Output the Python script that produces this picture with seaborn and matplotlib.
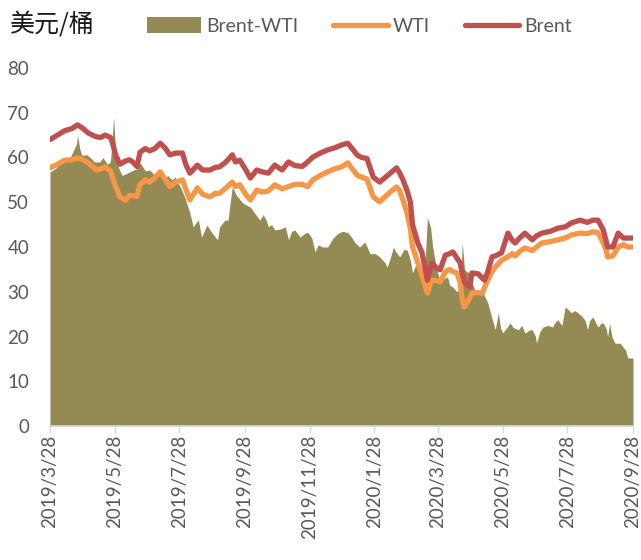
import matplotlib
matplotlib.use('Agg')
import matplotlib.pyplot as plt
import seaborn as sns
import pandas as pd
from matplotlib.patches import Patch
from matplotlib.lines import Line2D

# ---------------- data ----------------
line_dates = ['2019-03-28','2019-04-04','2019-04-11','2019-04-18','2019-04-23','2019-04-28','2019-05-03','2019-05-07',
              '2019-05-11','2019-05-15','2019-05-19','2019-05-24','2019-05-26','2019-05-29','2019-06-02','2019-06-07',
              '2019-06-11','2019-06-14','2019-06-18','2019-06-21','2019-06-26','2019-06-30','2019-07-05','2019-07-10',
              '2019-07-15','2019-07-19','2019-07-25','2019-07-31','2019-08-03','2019-08-07','2019-08-14','2019-08-19',
              '2019-08-26','2019-08-31','2019-09-04','2019-09-10','2019-09-16','2019-09-19','2019-09-23','2019-09-28',
              '2019-10-03','2019-10-09','2019-10-14','2019-10-20','2019-10-26','2019-11-02','2019-11-08','2019-11-14',
              '2019-11-21','2019-11-26','2019-12-01','2019-12-08','2019-12-15','2019-12-22','2019-12-28','2020-01-03',
              '2020-01-07','2020-01-12','2020-01-16','2020-01-21','2020-01-27','2020-02-02','2020-02-07','2020-02-12',
              '2020-02-18','2020-02-21','2020-02-24','2020-02-28','2020-03-02','2020-03-04','2020-03-09','2020-03-13',
              '2020-03-18','2020-03-22','2020-03-26','2020-03-30','2020-04-04','2020-04-08','2020-04-11','2020-04-15',
              '2020-04-18','2020-04-20','2020-04-22','2020-04-27','2020-04-29','2020-05-05','2020-05-09','2020-05-11',
              '2020-05-14','2020-05-18','2020-05-21','2020-05-27','2020-06-02','2020-06-06','2020-06-09','2020-06-13',
              '2020-06-18','2020-06-25','2020-06-29','2020-07-04','2020-07-12','2020-07-19','2020-07-26','2020-08-01',
              '2020-08-09','2020-08-16','2020-08-21','2020-08-26','2020-08-31','2020-09-03','2020-09-04','2020-09-09',
              '2020-09-14','2020-09-19','2020-09-23','2020-09-28']

brent = [64, 65, 66, 66.5, 67.3, 66.5, 65.5, 65, 64.6, 64.5, 65, 64.5, 63.2, 60.5, 58.5, 59.2,
         59.5, 59, 58, 61.2, 62, 61.5, 62, 63.2, 62, 60.6, 61, 61, 58.5, 56.5, 58.3, 57.2,
         57.2, 57.8, 57.9, 59, 60.6, 59, 59.4, 57.5, 55.4, 57.2, 56.8, 56.5, 58.3, 57.2, 59, 58.2,
         58, 59, 60.1, 61, 61.7, 62.2, 62.8, 63.2, 62, 60.5, 60, 59.8, 55.6, 54.5, 55.5, 56.5,
         57.7, 56.5, 55, 52.5, 50, 45, 40.9, 38.7, 32.6, 36.4, 35.5, 34.9, 38.2, 38.5, 38.9, 37.5,
         36.4, 34, 32.2, 31, 34.2, 34, 33, 32.6, 34.5, 37.8, 38, 38.7, 43.1, 41.5, 40.9, 42,
         43.1, 41.6, 42.5, 43.1, 43.5, 44.2, 44.5, 45.4, 46, 45.5, 46, 46, 43.8, 41, 40, 40,
         43.1, 42, 42, 42]

wti = [57.7, 58.5, 59.4, 59.5, 59.9, 59.5, 58.8, 58, 57.2, 57.5, 57.9, 57, 55.6, 53.5, 51.2, 50.5,
       51.5, 51.5, 51.3, 54, 55, 54.5, 55.5, 56.8, 55, 53.5, 54.5, 55, 53, 50.5, 53.2, 51.8,
       51.2, 52, 52, 53.2, 54.5, 53.5, 53.9, 52, 50.5, 52.7, 52.3, 52.5, 53.9, 53, 53.5, 54,
       54, 53.5, 55, 56, 56.8, 57.5, 57.9, 58.8, 57.5, 56, 55.6, 55.2, 51.2, 50.1, 51.2, 52.3,
       53.4, 52.5, 50.5, 47.5, 44, 40, 36.5, 33.5, 29.7, 32.6, 32.5, 32.2, 34.5, 35, 34.5, 34.2,
       32, 28.2, 26.6, 28.6, 29.7, 29.8, 29.7, 31, 32.6, 34.5, 35.5, 37, 37.8, 38.5, 38, 39,
       39.8, 39.2, 40, 40.9, 41.2, 41.6, 42, 42.7, 43.1, 43, 43.4, 43.2, 40.9, 39, 37.8, 38,
       40, 40.5, 40, 40]

spread_dates = ['2019-03-28','2019-04-02','2019-04-06','2019-04-11','2019-04-16','2019-04-18','2019-04-22','2019-04-23',
                '2019-04-25','2019-04-27','2019-05-02','2019-05-07','2019-05-09','2019-05-14','2019-05-17','2019-05-21',
                '2019-05-24','2019-05-25','2019-05-27','2019-05-29','2019-06-01','2019-06-04','2019-06-09','2019-06-13',
                '2019-06-18','2019-06-21','2019-06-26','2019-06-30','2019-07-05','2019-07-10','2019-07-13','2019-07-17',
                '2019-07-21','2019-07-24','2019-07-29','2019-08-02','2019-08-07','2019-08-10','2019-08-13','2019-08-15',
                '2019-08-18','2019-08-23','2019-08-28','2019-09-02','2019-09-04','2019-09-09','2019-09-12','2019-09-14',
                '2019-09-16','2019-09-20','2019-09-26','2019-10-03','2019-10-07','2019-10-12','2019-10-15','2019-10-18',
                '2019-10-20','2019-10-23','2019-10-26','2019-10-31','2019-11-05','2019-11-08','2019-11-11','2019-11-14',
                '2019-11-19','2019-11-23','2019-11-26','2019-11-30','2019-12-03','2019-12-06','2019-12-10','2019-12-15',
                '2019-12-20','2019-12-25','2019-12-29','2020-01-03','2020-01-07','2020-01-10','2020-01-14','2020-01-19',
                '2020-01-24','2020-01-29','2020-02-02','2020-02-07','2020-02-09','2020-02-12','2020-02-15','2020-02-17',
                '2020-02-21','2020-02-25','2020-02-28','2020-03-02','2020-03-04','2020-03-07','2020-03-09','2020-03-13',
                '2020-03-16','2020-03-18','2020-03-21','2020-03-23','2020-03-26','2020-03-30','2020-04-03','2020-04-06',
                '2020-04-08','2020-04-11','2020-04-15','2020-04-18','2020-04-20','2020-04-22','2020-04-24','2020-04-27',
                '2020-04-29','2020-05-02','2020-05-07','2020-05-09','2020-05-11','2020-05-14','2020-05-18','2020-05-21',
                '2020-05-24','2020-05-26','2020-05-28','2020-06-01','2020-06-04','2020-06-07','2020-06-12','2020-06-15',
                '2020-06-18','2020-06-23','2020-06-25','2020-06-28','2020-06-29','2020-07-02','2020-07-05','2020-07-10',
                '2020-07-14','2020-07-16','2020-07-19','2020-07-23','2020-07-26','2020-07-29','2020-07-31','2020-08-01',
                '2020-08-04','2020-08-06','2020-08-11','2020-08-14','2020-08-16','2020-08-18','2020-08-21','2020-08-24',
                '2020-08-26','2020-08-29','2020-08-31','2020-09-03','2020-09-04','2020-09-06','2020-09-08','2020-09-11',
                '2020-09-16','2020-09-19','2020-09-21','2020-09-23','2020-09-28']

spread = [56.8, 57.5, 58.5, 59.4, 60, 61, 63, 65, 62, 60.5, 60.6, 59.5, 59, 59, 60, 58.5,
          59, 62, 69, 61, 57.5, 56, 56.5, 57, 57.5, 58.8, 57, 57.2, 56, 56.5, 55, 56,
          55, 55.6, 53.4, 51.2, 47.6, 44.5, 45.5, 46, 42.2, 44.9, 43.1, 41.6, 44.5, 46, 46, 50,
          53.4, 51.5, 49.8, 48.9, 47.6, 46, 47.2, 46, 44.5, 45, 43.8, 44, 44.5, 41.6, 43.5, 43.8,
          42.2, 43, 43.3, 42, 38.9, 40.5, 40, 40, 42, 43.1, 43.5, 43.2, 42, 40.9, 40, 41.1,
          38.5, 38.5, 37.8, 36.5, 35.5, 37.5, 40, 39, 37.8, 39.5, 39.3, 37, 34.2, 36, 36.5, 32,
          37, 46.5, 44.5, 40, 36, 32, 33, 33.3, 31.5, 31, 30, 31, 40.9, 35, 34.5, 34.2,
          32, 30.4, 30, 30.4, 29, 27.5, 24, 21.5, 25.3, 22, 20.8, 22, 23, 22, 21.5, 22.5,
          20.8, 21.5, 21.5, 20, 18.5, 21, 22.1, 22.5, 22.1, 23, 23.7, 22.5, 26.6, 26, 25.5, 25.3,
          25.8, 25.5, 24.5, 23.5, 21.5, 23.5, 24.4, 23, 22.1, 23, 23, 21.5, 19.9, 23, 20, 18.5,
          18.5, 17.5, 17, 15.2, 15.2]

tick_dates = ['2019-03-28', '2019-05-28', '2019-07-28', '2019-09-28', '2019-11-28',
              '2020-01-28', '2020-03-28', '2020-05-28', '2020-07-28', '2020-09-28']
y_ticks = [0, 10, 20, 30, 40, 50, 60, 70, 80]

# ---------------- style ----------------
sns.set_theme(style='white')
plt.rcParams['font.family'] = ['Lato', 'Noto Sans CJK SC', 'DejaVu Sans']

C_AREA = '#948A54'
C_WTI = '#F79646'
C_BRENT = '#C0504D'
C_TXT = '#595959'

fig = plt.figure(figsize=(6.41, 5.6), dpi=100)
ax = fig.add_axes([50 / 641, 134 / 560, 583 / 641, 358 / 560])

sd = pd.to_datetime(spread_dates)
ax.fill_between(sd, spread, 0, color=C_AREA, linewidth=0, zorder=1)

df = pd.DataFrame({'date': pd.to_datetime(line_dates), 'WTI': wti, 'Brent': brent})
long = df.melt('date', var_name='series', value_name='price')
sns.lineplot(data=long, x='date', y='price', hue='series', hue_order=['WTI', 'Brent'],
             palette={'WTI': C_WTI, 'Brent': C_BRENT}, linewidth=3.8, ax=ax, legend=False,
             solid_capstyle='round', solid_joinstyle='round', zorder=3)

ax.set_xlim(pd.Timestamp(tick_dates[0]), pd.Timestamp(tick_dates[-1]))
ax.set_ylim(0, 80)
ax.set_yticks(y_ticks)
ax.set_yticklabels([str(v) for v in y_ticks])
td = pd.to_datetime(tick_dates)
ax.set_xticks(td)
ax.set_xticklabels([f'{d.year}/{d.month}/{d.day}' for d in td], rotation=90, va='top', ha='center')
ax.set_xlabel('')
ax.set_ylabel('')
ax.grid(False)

for s in ['left', 'top', 'right']:
    ax.spines[s].set_visible(False)
ax.spines['bottom'].set_color('#D9D9D9')
ax.spines['bottom'].set_linewidth(1.2)
ax.tick_params(axis='x', direction='out', length=5, width=1, color='#D9D9D9',
               labelsize=13.5, labelcolor=C_TXT, pad=1.5, bottom=True)
ax.tick_params(axis='y', length=0, labelsize=13.5, labelcolor=C_TXT, pad=15)

fig.text(10 / 641, 1 - 25 / 560, '美元/桶', fontsize=18, va='center', ha='left',
         family=['Noto Sans CJK SC', 'DejaVu Sans'], color='#1a1a1a')

handles = [Patch(facecolor=C_AREA, edgecolor='none'),
           Line2D([0], [0], color=C_WTI, lw=3.8, solid_capstyle='round'),
           Line2D([0], [0], color=C_BRENT, lw=3.8, solid_capstyle='round')]
leg = fig.legend(handles, ['Brent-WTI', 'WTI', 'Brent'], loc='center left',
                 bbox_to_anchor=(147 / 641, 1 - 26 / 560), ncol=3, frameon=False,
                 fontsize=14, handlelength=2.8, handleheight=0.9, handletextpad=0.25,
                 columnspacing=1.8, borderpad=0, borderaxespad=0)
for t in leg.get_texts():
    t.set_color(C_TXT)

fig.savefig('out.png', dpi=100)
